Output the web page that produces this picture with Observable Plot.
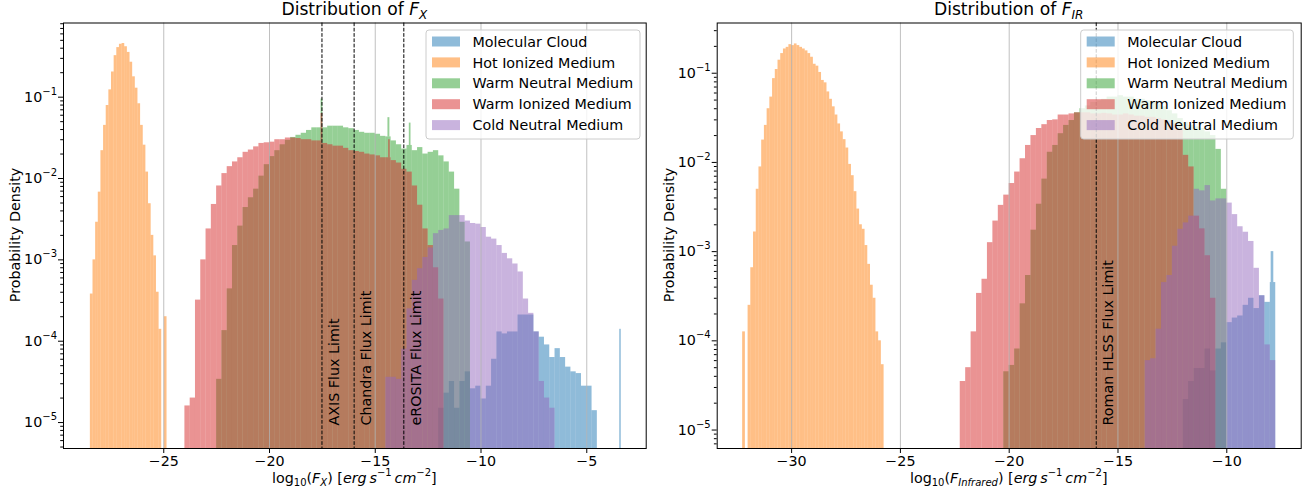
<!DOCTYPE html>
<html>
<head>
<meta charset="utf-8">
<script src="https://cdn.jsdelivr.net/npm/d3@7"></script>
<script src="https://cdn.jsdelivr.net/npm/@observablehq/plot@0.6"></script>
<style>
  body { margin: 0; background: #fff; }
  #fig { position: relative; width: 1315px; height: 496px; overflow: hidden; background: #fff; font-family: "DejaVu Sans", sans-serif; }
  #fig svg { position: absolute; top: 0; }
</style>
</head>
<body>
<div id="fig"></div>
<script>
// ---------- shared ----------
const seriesNames = ["Molecular Cloud", "Hot Ionized Medium", "Warm Neutral Medium", "Warm Ionized Medium", "Cold Neutral Medium"];
const seriesColors = ["#1f77b4", "#ff7f0e", "#2ca02c", "#d62728", "#9467bd"];
const yMajorTicks = [1e-5, 1e-4, 1e-3, 1e-2, 1e-1];

// ---------- F_X panel ----------
const fxBinStart = [-12, -28.47, -22.5, -24, -14.5];
const fxBinWidth = [0.25, 0.125, 0.25, 0.25, 0.25];
const fxMolecularCloud = [1.5e-5, 2.3e-5, 3.2e-5, 1.5e-5, 3.2e-5, 4.2e-5, 2.6e-5, 2.8e-5, 1.95e-5, 2.8e-5, 6.0e-5, 1.3e-4, 1.23e-4, 1.3e-4, 1.3e-4, 2.1e-4, 2.1e-4, 2.1e-4, 1.3e-4, 1.12e-4, 9.0e-5, 6.3e-5, 8.1e-5, 6.3e-5, 4.8e-5, 4.2e-5, 4.0e-5, 2.8e-5, 2.8e-5, 1.4e-5];
const fxHotIonized = [3.8e-4, 1.0e-3, 2.9e-3, 6.8e-3, 2.2e-2, 4.5e-2, 7.9e-2, 0.123, 0.204, 0.324, 0.407, 0.447, 0.457, 0.417, 0.355, 0.269, 0.178, 0.129, 0.083, 0.045, 0.0257, 0.012, 0.0049, 0.002, 0.00112, 0.0004, 0.00014, 0, 0.0002];
const fxWarmNeutral = [3.4e-5, 1.35e-4, 4.4e-4, 1.5e-3, 2.6e-3, 4.4e-3, 5.8e-3, 7.4e-3, 1.07e-2, 1.48e-2, 1.86e-2, 2.2e-2, 2.6e-2, 2.95e-2, 3.2e-2, 3.4e-2, 3.6e-2, 3.9e-2, 4.2e-2, 4.2e-2, 4.2e-2, 4.4e-2, 4.4e-2, 4.4e-2, 4.2e-2, 4.1e-2, 3.9e-2, 3.7e-2, 3.6e-2, 3.6e-2, 3.5e-2, 3.3e-2, 3.25e-2, 2.9e-2, 2.6e-2, 2.3e-2, 2.55e-2, 2.2e-2, 2.4e-2, 2.0e-2, 2.1e-2, 2.2e-2, 1.9e-2, 1.6e-2, 1.2e-2, 7.4e-3, 2.9e-3, 1.66e-3];
const fxWarmIonized = [1.6e-5, 2.0e-5, 3.2e-4, 1.0e-3, 2.4e-3, 4.8e-3, 8.1e-3, 1.15e-2, 1.4e-2, 1.6e-2, 1.8e-2, 2.1e-2, 2.24e-2, 2.45e-2, 2.7e-2, 2.75e-2, 2.8e-2, 3.0e-2, 3.0e-2, 3.15e-2, 3.15e-2, 3.1e-2, 3.0e-2, 3.0e-2, 2.9e-2, 2.9e-2, 2.7e-2, 2.6e-2, 2.5e-2, 2.5e-2, 2.35e-2, 2.2e-2, 2.15e-2, 2.1e-2, 2.0e-2, 1.95e-2, 1.9e-2, 1.8e-2, 1.8e-2, 1.66e-2, 1.55e-2, 1.3e-2, 1.2e-2, 8.1e-3, 4.7e-3, 2.4e-3, 1.5e-3, 8.0e-4, 3.3e-4];
const fxColdNeutral = [3.6e-5, 3.6e-5, 3.4e-5, 8.0e-5, 2.5e-4, 5.6e-4, 7.8e-4, 1.07e-3, 1.4e-3, 2.1e-3, 2.3e-3, 2.4e-3, 3.5e-3, 3.5e-3, 3.5e-3, 3.0e-3, 2.8e-3, 2.75e-3, 2.5e-3, 1.9e-3, 1.8e-3, 1.5e-3, 1.2e-3, 1.03e-3, 8.9e-4, 7.1e-4, 3.3e-4, 2.2e-4, 1.3e-4, 3.2e-5, 2.0e-5, 1.5e-5];
const fxSpikes = [
  ["Warm Neutral Medium", -17.56, -17.48, 9.5e-2],
  ["Warm Ionized Medium", -17.56, -17.48, 6.3e-2],
  ["Warm Neutral Medium", -14.40, -14.31, 5.6e-2],
  ["Warm Ionized Medium", -14.37, -14.29, 3.0e-2],
  ["Warm Neutral Medium", -13.39, -13.31, 4.8e-2],
  ["Molecular Cloud", -3.44, -3.37, 1.4e-4]
];
const fxLimitValues = [-17.52, -16.0, -13.65];
const fxLimitLabels = ["AXIS Flux Limit", "Chandra Flux Limit", "eROSITA Flux Limit"];
const fxTicks = [-25, -20, -15, -10, -5];

// ---------- F_IR panel ----------
const firBinStart = [-12, -32.25, -20.25, -22.25, -13.75];
const firBinWidth = [0.25, 0.125, 0.25, 0.25, 0.25];
const firMolecularCloud = [2.2e-5, 3.5e-5, 4.9e-5, 4.9e-5, 8.1e-5, 4.6e-5, 8.1e-5, 9.5e-5, 1.6e-4, 1.8e-4, 1.9e-4, 2.5e-4, 3.0e-4, 2.3e-4, 3.2e-4, 2.7e-4, 4.5e-4];
const firHotIonized = [1.26e-4, 0, 2.5e-4, 6.6e-4, 1.66e-3, 5.0e-3, 8.9e-3, 1.78e-2, 2.6e-2, 4.0e-2, 5.4e-2, 8.7e-2, 0.11, 0.14, 0.166, 0.187, 0.195, 0.209, 0.204, 0.213, 0.204, 0.195, 0.187, 0.178, 0.166, 0.151, 0.126, 0.12, 0.102, 0.083, 0.078, 0.0617, 0.051, 0.042, 0.034, 0.027, 0.022, 0.018, 0.0145, 9.5e-3, 7.1e-3, 4.7e-3, 3.0e-3, 2.0e-3, 1.78e-3, 1.17e-3, 7.2e-4, 4.2e-4, 3.0e-4, 1.26e-4, 1.0e-4, 5.4e-5];
const firWarmNeutral = [4.5e-5, 5.3e-5, 8.1e-5, 2.6e-4, 5.4e-4, 1.74e-3, 3.4e-3, 6.5e-3, 1.3e-2, 1.55e-2, 2.1e-2, 2.6e-2, 2.95e-2, 3.6e-2, 4.0e-2, 4.3e-2, 4.7e-2, 4.9e-2, 5.1e-2, 5.4e-2, 5.4e-2, 5.6e-2, 5.4e-2, 5.4e-2, 5.1e-2, 5.1e-2, 4.9e-2, 4.7e-2, 4.5e-2, 4.2e-2, 3.8e-2, 3.5e-2, 3.1e-2, 2.8e-2, 2.6e-2, 2.5e-2, 2.4e-2, 2.2e-2, 2.0e-2, 1.4e-2, 5.0e-3];
const firWarmIonized = [3.5e-5, 5.0e-5, 1.26e-4, 3.4e-4, 4.9e-4, 1.26e-3, 2.2e-3, 3.3e-3, 4.3e-3, 5.8e-3, 7.8e-3, 1.1e-2, 1.55e-2, 2.0e-2, 2.4e-2, 2.65e-2, 2.95e-2, 3.0e-2, 3.4e-2, 3.4e-2, 3.5e-2, 3.6e-2, 3.6e-2, 3.6e-2, 3.5e-2, 3.5e-2, 3.55e-2, 3.5e-2, 3.4e-2, 3.4e-2, 3.5e-2, 3.4e-2, 3.3e-2, 3.3e-2, 3.2e-2, 3.2e-2, 3.1e-2, 3.0e-2, 2.9e-2, 2.7e-2, 2.4e-2, 1.2e-2, 8.9e-3, 2.5e-3, 1.8e-3, 9.0e-4, 3.0e-4];
const firColdNeutral = [6.0e-5, 6.3e-5, 1.35e-4, 4.5e-4, 5.4e-4, 1.15e-3, 1.78e-3, 2.1e-3, 2.5e-3, 5.0e-3, 4.8e-3, 5.5e-3, 3.7e-3, 3.9e-3, 3.9e-3, 3.5e-3, 2.6e-3, 1.9e-3, 1.65e-3, 1.3e-3, 6.5e-4, 3.2e-4, 9.0e-5, 6.0e-5];
const firSpikes = [
  ["Molecular Cloud", -7.96, -7.84, 1.0e-3]
];
const firLimitValues = [-16.0];
const firLimitLabels = ["Roman HLSS Flux Limit"];
const firTicks = [-30, -25, -20, -15, -10];

// ---------- helpers ----------
const FS = 14.3;
const TFS = 17.2;
function richText(sel, segs, size) {
  let cur = 0;
  sel.style("white-space", "pre");
  segs.forEach(s => {
    const off = s.sub ? 0.26 * size : s.sup ? -0.45 * size : 0;
    const ts = sel.append("tspan").text(s.t);
    if (off !== cur) ts.attr("dy", off - cur);
    cur = off;
    if (s.sub || s.sup) ts.attr("font-size", (size * 0.7) + "px");
    if (s.it) ts.attr("font-style", "italic");
  });
}

function buildPanel(cfg) {
  const [yLo, yHi] = cfg.yDomain;
  const marks = [];
  seriesNames.forEach((name, s) => {
    const vals = cfg.values[s];
    const bins = vals.map((v, i) => ({x1: cfg.starts[s] + i * cfg.widths[s], x2: cfg.starts[s] + (i + 1) * cfg.widths[s], y2: v}))
      .filter(d => d.y2 > 0);
    marks.push(Plot.rect(bins, {x1: "x1", x2: "x2", y1: yLo, y2: "y2", fill: seriesColors[s], fillOpacity: 0.5}));
    const sp = cfg.spikes.filter(d => d[0] === name).map(d => {
      const i = Math.floor(((d[1] + d[2]) / 2 - cfg.starts[s]) / cfg.widths[s]);
      const base = vals[i] > 0 ? vals[i] : yLo;
      return {x1: d[1], x2: d[2], y1: base, y2: d[3]};
    });
    if (sp.length) marks.push(Plot.rect(sp, {x1: "x1", x2: "x2", y1: "y1", y2: "y2", fill: seriesColors[s], fillOpacity: 0.5}));
  });
  const minor = [];
  for (let k = -7; k <= 0; k++) for (let m = 2; m <= 9; m++) {
    const v = m * Math.pow(10, k);
    if (v > yLo && v < yHi) minor.push(v);
  }
  marks.push(
    Plot.gridX(cfg.xTicks, {stroke: "#b0b0b0", strokeOpacity: 0.8, strokeWidth: 1}),
    Plot.ruleX(cfg.limits, {stroke: "black", strokeWidth: 1, strokeDasharray: "3.7,1.6"}),
    Plot.text(cfg.limits, {x: d => d, y: 1e-5, text: (d, i) => cfg.limitLabels[i], rotate: -90, textAnchor: "start",
      dx: 12.5, dy: cfg.labelDy, fill: "black", fontSize: FS}),
    Plot.frame({stroke: "black", strokeWidth: 1}),
    Plot.axisX(cfg.xTicks, {tickSize: 5, tickPadding: 2.5, tickFormat: d3.format("d"), label: null}),
    Plot.axisY(yMajorTicks, {tickSize: 5, tickPadding: 1.5, tickFormat: d => "10^" + Math.round(Math.log10(d)), label: null}),
    Plot.axisY(minor, {tickSize: 2.8, tickFormat: () => "", label: null})
  );
  const svg = Plot.plot({
    width: cfg.width, height: 496,
    marginLeft: cfg.mL, marginRight: cfg.mR, marginTop: 22.5, marginBottom: 48,
    x: {domain: cfg.xDomain},
    y: {type: "log", domain: cfg.yDomain},
    style: {fontFamily: "DejaVu Sans", fontSize: FS + "px", background: "transparent", overflow: "visible", color: "black"},
    marks
  });
  const root = d3.select(svg);
  // superscript exponents on y tick labels
  root.selectAll("text").each(function () {
    const m = /^10\^(-?\d+)$/.exec(this.textContent);
    if (!m) return;
    const e = +m[1];
    this.textContent = "";
    const t = d3.select(this);
    t.append("tspan").text("10");
    t.append("tspan").attr("dy", -7).attr("font-size", (FS * 0.7) + "px").text((e < 0 ? "\u2212" : "") + Math.abs(e));
  });
  const cx = cfg.mL + (cfg.width - cfg.mL - cfg.mR) / 2;
  // title
  richText(root.append("text").attr("x", cx).attr("y", 15).attr("text-anchor", "middle")
    .attr("font-size", TFS + "px").attr("fill", "black"), cfg.title, TFS);
  // x label
  richText(root.append("text").attr("x", cx).attr("y", 482.5).attr("text-anchor", "middle")
    .attr("font-size", FS + "px").attr("fill", "black"), cfg.xLabel, FS);
  // y label
  root.append("text").attr("transform", `translate(${cfg.mL - 48},235) rotate(-90)`)
    .attr("text-anchor", "middle").attr("dy", "0.35em").attr("font-size", FS + "px").attr("fill", "black")
    .text("Probability Density");
  // legend
  const lg = root.append("g").attr("transform", `translate(${cfg.legendX},30)`).attr("text-anchor", "start");
  lg.append("rect").attr("width", cfg.legendW).attr("height", 109).attr("rx", 3)
    .attr("fill", "white").attr("fill-opacity", 0.8).attr("stroke", "#cccccc").attr("stroke-width", 1);
  seriesNames.forEach((name, s) => {
    const yc = 11.5 + 20.9 * s;
    lg.append("rect").attr("x", 6).attr("y", yc - 5).attr("width", 28).attr("height", 10)
      .attr("fill", seriesColors[s]).attr("fill-opacity", 0.5);
    lg.append("text").attr("x", 46.5).attr("y", yc).attr("dy", "0.36em").attr("font-size", FS + "px")
      .attr("text-anchor", "start").attr("fill", "black").text(name);
  });
  return svg;
}

const ES = [
  {t: " ["}, {t: "erg", it: true}, {t: "\u2009"}, {t: "s", it: true}, {t: "\u22121", sup: true},
  {t: "\u2009"}, {t: "cm", it: true}, {t: "\u22122", sup: true}, {t: "]"}
];

const leftSvg = buildPanel({
  values: [fxMolecularCloud, fxHotIonized, fxWarmNeutral, fxWarmIonized, fxColdNeutral],
  starts: fxBinStart, widths: fxBinWidth, spikes: fxSpikes,
  limits: fxLimitValues, limitLabels: fxLimitLabels, xTicks: fxTicks,
  xDomain: [-29.74, -2.19], yDomain: [Math.pow(10, -5.319), Math.pow(10, -0.088)],
  width: 657, mL: 63, mR: 11.3, labelDy: 3,
  title: [{t: "Distribution of "}, {t: "F", it: true}, {t: "X", it: true, sub: true}],
  xLabel: [{t: "log"}, {t: "10", sub: true}, {t: "("}, {t: "F", it: true}, {t: "X", it: true, sub: true}, {t: ")"}, ...ES],
  legendX: 426, legendW: 214
});
leftSvg.style.left = "0px";

const rightSvg = buildPanel({
  values: [firMolecularCloud, firHotIonized, firWarmNeutral, firWarmIonized, firColdNeutral],
  starts: firBinStart, widths: firBinWidth, spikes: firSpikes,
  limits: firLimitValues, limitLabels: firLimitLabels, xTicks: firTicks,
  xDomain: [-33.42, -6.58], yDomain: [Math.pow(10, -5.207), Math.pow(10, -0.437)],
  width: 658, mL: 59.7, mR: 14.3, labelDy: -4.5,
  title: [{t: "Distribution of "}, {t: "F", it: true}, {t: "IR", it: true, sub: true}],
  xLabel: [{t: "log"}, {t: "10", sub: true}, {t: "("}, {t: "F", it: true}, {t: "Infrared", it: true, sub: true}, {t: ")"}, ...ES],
  legendX: 423.7, legendW: 212.6
});
rightSvg.style.left = "657px";

const fig = document.getElementById("fig");
fig.appendChild(leftSvg);
fig.appendChild(rightSvg);
</script>
</body>
</html>
